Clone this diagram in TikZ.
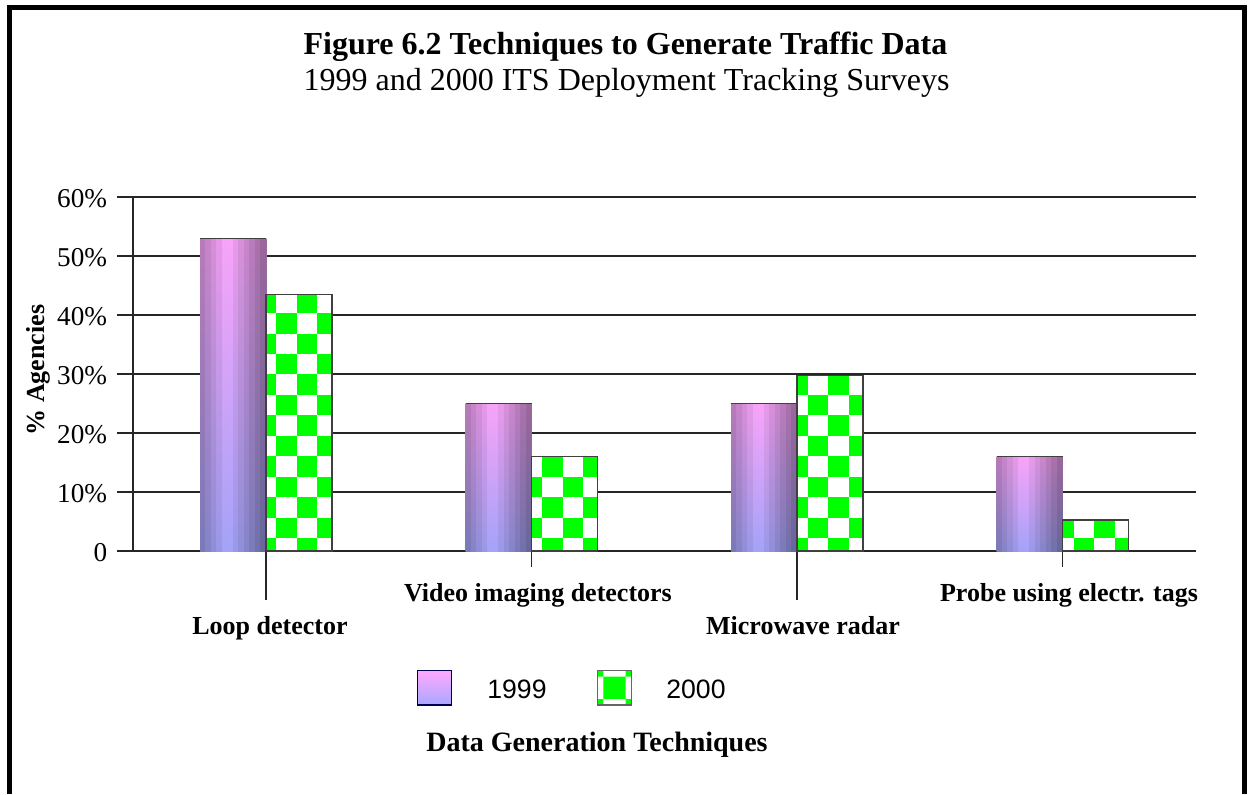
\documentclass[tikz,border=0pt]{standalone}
\usepackage{fontspec}
\setmainfont{Liberation Serif}
\newfontfamily\keyfont{Liberation Sans}
\definecolor{cylpink}{RGB}{255,168,255}
\definecolor{cylblue}{RGB}{168,168,255}
\definecolor{chkgreen}{RGB}{0,255,0}
\tikzset{
  gridln/.style={line width=0.6pt,black!85},
  barln/.style={line width=0.6pt,black!75},
  catlbl/.style={font=\fontsize{13}{15}\selectfont\bfseries,anchor=base},
  ticklbl/.style={font=\fontsize{13.6}{16}\selectfont,anchor=base east,inner xsep=0pt},
  keylbl/.style={font=\keyfont\fontsize{13.3}{16}\selectfont,anchor=base},
}
% shaded cylinder bar: x0, top
\newcommand{\mycyl}[2]{%
  \foreach \k in {0,...,11}{
    \pgfmathsetmacro\myp{100-42*abs((\k+0.5)/12-0.42)/0.58}
    \shade[top color=cylpink!\myp!black,bottom color=cylblue!\myp!black]
      (#1+\k*5.5,#2) rectangle (#1+\k*5.5+5.8,551);
  }
  \draw[barln] (#1,#2) -- (#1+66,#2);
}
% checker bar: x0, top, first column
\newcommand{\mychk}[3]{%
  \begin{scope}
    \clip (#1,#2) rectangle (#1+66,551);
    \fill[white] (#1,#2) rectangle (#1+66,551);
    \pgfmathtruncatemacro\myie{#3+4}
    \foreach \i in {#3,...,\myie}{
      \foreach \j in {-12,...,0}{
        \pgfmathtruncatemacro\myodd{mod(\i+\j+100,2)}
        \ifnum\myodd=1
          \fill[chkgreen] (276.3+\i*20.45,538+\j*20.45) rectangle +(20.45,20.45);
        \fi
      }
    }
  \end{scope}
  \draw[barln] (#1,#2) rectangle (#1+66,551);
}
\begin{document}
\begin{tikzpicture}[x=0.5pt,y=-0.5pt]
  \useasboundingbox (0,0) rectangle (1248,794);
  \def\mybase{551}\def\mystep{59}
  % frame
  \draw[line width=2.5pt] (9.2,794) -- (9.2,7.5) -- (1244,7.5) -- (1244,794);
  % titles
  \node[font=\fontsize{16}{19}\selectfont\bfseries,anchor=base] (mytitle) at (625.5,54)
    {Figure 6.2 Techniques to Generate Traffic Data};
  \node[font=\fontsize{16}{19}\selectfont,anchor=base] (mysub) at (626.5,90)
    {1999 and 2000 ITS Deployment Tracking Surveys};
  % grid and axis
  \foreach \n in {0,...,6}{
    \draw[gridln] (117,\mybase-\n*\mystep) -- (1196,\mybase-\n*\mystep);
  }
  \node[ticklbl] (myt0) at (107.5,\mybase+10.7) {0};
  \foreach \n in {1,...,6}{
    \node[ticklbl] (myt\n) at (107.5,\mybase-\n*\mystep+10.7) {\n0\%};
  }
  \draw[gridln] (133,197) -- (133,\mybase);
  \draw[gridln] (266,\mybase) -- (266,600) (531.5,\mybase) -- (531.5,567)
    (797,\mybase) -- (797,600) (1062.6,\mybase) -- (1062.6,567);
  \node[rotate=90,font=\fontsize{13}{15}\selectfont\bfseries] (myytitle) at (38,370) {\% Agencies};
  % bars
  \mycyl{200}{\mybase-53*5.9}
  \mychk{266}{\mybase-43.5*5.9}{-1}
  \mycyl{465.5}{\mybase-25*5.9}
  \mychk{531.5}{\mybase-16*5.9}{12}
  \mycyl{731}{\mybase-25*5.9}
  \mychk{797}{\mybase-29.7*5.9}{25}
  \mycyl{996.6}{\mybase-16*5.9}
  \mychk{1062.6}{\mybase-5.25*5.9}{38}
  % category labels
  \node[catlbl] (mycloop) at (270,634) {Loop detector};
  \node[catlbl] (mycvideo) at (538,601) {Video imaging detectors};
  \node[catlbl] (mycradar) at (803,634) {Microwave radar};
  \node[catlbl] (mycprobe) at (1069,601) {Probe using electr. tags};
  % legend
  \shade[top color=cylpink,bottom color=cylblue] (417.3,670.7) rectangle (451.7,705);
  \draw[line width=0.6pt,black!70!blue] (417.3,670.7) rectangle (451.7,705);
  \node[keylbl] (myk1999) at (517,698.3) {1999};
  \fill[white] (597.3,670.7) rectangle (631.7,705);
  \fill[chkgreen] (597.3,670.7) rectangle +(6,6) (625.7,670.7) rectangle +(6,6)
    (597.3,699) rectangle +(6,6) (625.7,699) rectangle +(6,6)
    (603.3,676.7) rectangle (625.7,699);
  \draw[line width=0.6pt,black!60] (597.3,670.7) rectangle (631.7,705);
  \node[keylbl] (myk2000) at (696,698.3) {2000};
  \node[font=\fontsize{14}{17}\selectfont\bfseries,anchor=base] (myxtitle) at (597,751)
    {Data Generation Techniques};
\end{tikzpicture}
\end{document}
